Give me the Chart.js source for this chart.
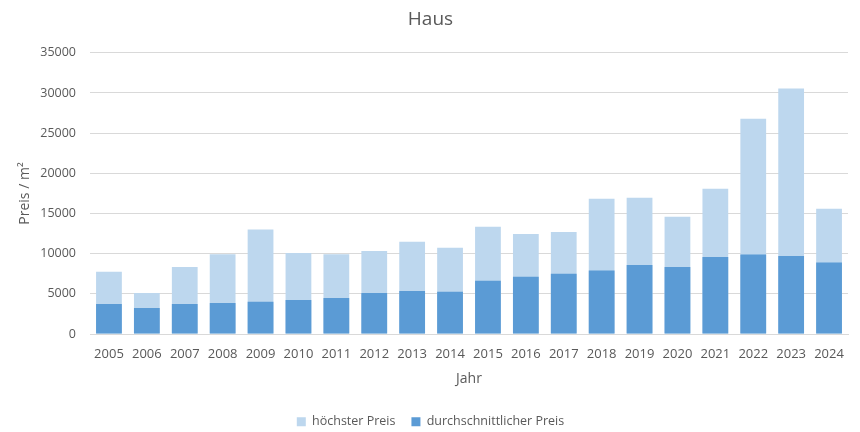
<!DOCTYPE html>
<html>
<head>
<meta charset="utf-8">
<script src="https://cdn.jsdelivr.net/npm/chart.js@4/dist/chart.umd.min.js"></script>
<style>
  html, body { margin: 0; padding: 0; background: #fff; }
  #wrap { width: 860px; height: 432px; }
</style>
</head>
<body>
<div id="wrap"><canvas id="c"></canvas></div>
<script>
const years = ["2005","2006","2007","2008","2009","2010","2011","2012","2013","2014",
  "2015","2016","2017","2018","2019","2020","2021","2022","2023","2024"];
const hoechsterPreis = [7750, 5100, 8350, 9950, 13000, 10100, 9950, 10350, 11500, 10750,
  13350, 12450, 12700, 16850, 16950, 14600, 18100, 26800, 30550, 15600];
const durchschnittPreis = [3750, 3250, 3750, 3870, 4030, 4250, 4500, 5100, 5350, 5280,
  6650, 7150, 7520, 7900, 8600, 8350, 9600, 9900, 9730, 8900];
const yTicks = [0, 5000, 10000, 15000, 20000, 25000, 30000, 35000];

const grey = "#595959";
const font = "'Open Sans', sans-serif";

const ctx = document.getElementById("c").getContext("2d");
new Chart(ctx, {
  type: "bar",
  data: {
    labels: years,
    datasets: [
      {
        label: "durchschnittlicher Preis",
        data: durchschnittPreis,
        backgroundColor: "#5B9BD5",
        borderWidth: 0,
        barPercentage: 0.68,
        categoryPercentage: 1,
      },
      {
        label: "höchster Preis",
        data: hoechsterPreis,
        backgroundColor: "#BDD7EE",
        borderWidth: 0,
        barPercentage: 0.68,
        categoryPercentage: 1,
      },
    ],
  },
  options: {
    responsive: true,
    maintainAspectRatio: false,
    animation: false,
    layout: { padding: { left: 13, right: 12, top: 4, bottom: -6 } },
    plugins: {
      title: {
        display: true,
        text: "Haus",
        color: grey,
        font: { family: font, size: 19, weight: "normal" },
        padding: { top: 4, bottom: 22 },
      },
      legend: {
        display: true,
        position: "bottom",
        reverse: true,
        labels: {
          color: grey,
          font: { family: font, size: 12.5 },
          boxWidth: 9,
          boxHeight: 9,
          padding: 16,
        },
      },
      tooltip: { enabled: false },
    },
    scales: {
      x: {
        stacked: true,
        grid: { display: false },
        border: { display: true, color: "#D9D9D9" },
        ticks: { color: grey, font: { family: font, size: 13 }, maxRotation: 0, padding: 4 },
        title: {
          display: true,
          text: "Jahr",
          color: grey,
          font: { family: font, size: 14 },
          padding: { top: 5, bottom: 12 },
        },
      },
      y: {
        stacked: false,
        min: 0,
        max: 35000,
        afterBuildTicks: (axis) => { axis.ticks = yTicks.map((v) => ({ value: v })); },
        afterFit: (axis) => { axis.width = 77; },
        grid: { color: "#D9D9D9", drawTicks: false },
        border: { display: false },
        ticks: {
          color: grey,
          font: { family: font, size: 12.5 },
          padding: 14,
          callback: (v) => String(v),
        },
        title: {
          display: true,
          text: "Preis / m²",
          color: grey,
          font: { family: font, size: 14 },
        },
      },
    },
  },
});
</script>
</body>
</html>
